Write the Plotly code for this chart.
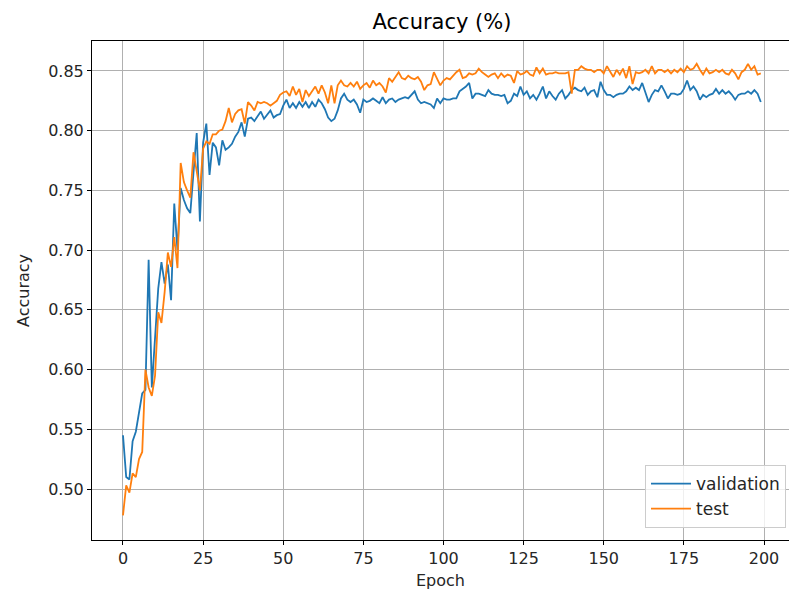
import plotly.graph_objects as go

epochs = list(range(200))

validation = [
    0.545, 0.510, 0.508, 0.540, 0.548, 0.565, 0.580, 0.583, 0.692, 0.585,
    0.625, 0.668, 0.690, 0.672, 0.688, 0.658, 0.739, 0.700, 0.752, 0.742,
    0.735, 0.731, 0.765, 0.798, 0.724, 0.790, 0.806, 0.763, 0.790, 0.786,
    0.771, 0.792, 0.784, 0.786, 0.789, 0.795, 0.799, 0.807, 0.795, 0.810,
    0.811, 0.808, 0.812, 0.816, 0.810, 0.814, 0.817, 0.811, 0.813, 0.814,
    0.821, 0.826, 0.819, 0.823, 0.819, 0.824, 0.820, 0.824, 0.819, 0.824,
    0.820, 0.826, 0.823, 0.818, 0.811, 0.808, 0.810, 0.817, 0.827, 0.831,
    0.826, 0.824, 0.826, 0.822, 0.815, 0.826, 0.824, 0.825, 0.827, 0.825,
    0.823, 0.828, 0.823, 0.826, 0.827, 0.824, 0.826, 0.827, 0.828, 0.827,
    0.830, 0.833, 0.826, 0.823, 0.824, 0.823, 0.822, 0.819, 0.827, 0.823,
    0.827, 0.826, 0.826, 0.827, 0.827, 0.833, 0.835, 0.837, 0.840, 0.827,
    0.831, 0.831, 0.830, 0.829, 0.834, 0.831, 0.830, 0.830, 0.829, 0.830,
    0.823, 0.825, 0.831, 0.829, 0.837, 0.830, 0.833, 0.827, 0.830, 0.826,
    0.831, 0.837, 0.827, 0.833, 0.829, 0.826, 0.831, 0.834, 0.827, 0.830,
    0.834, 0.836, 0.834, 0.833, 0.836, 0.830, 0.833, 0.834, 0.828, 0.841,
    0.834, 0.830, 0.830, 0.828, 0.830, 0.831, 0.831, 0.833, 0.837, 0.834,
    0.836, 0.834, 0.840, 0.831, 0.824, 0.830, 0.834, 0.833, 0.838, 0.833,
    0.827, 0.831, 0.831, 0.830, 0.831, 0.835, 0.842, 0.834, 0.837, 0.833,
    0.826, 0.830, 0.828, 0.830, 0.831, 0.835, 0.831, 0.834, 0.831, 0.833,
    0.830, 0.826, 0.830, 0.831, 0.831, 0.833, 0.831, 0.834, 0.831, 0.824,
]

test = [
    0.478, 0.503, 0.497, 0.513, 0.510, 0.525, 0.531, 0.600, 0.585, 0.578,
    0.595, 0.648, 0.639, 0.665, 0.698, 0.686, 0.711, 0.685, 0.773, 0.757,
    0.750, 0.744, 0.782, 0.766, 0.750, 0.785, 0.791, 0.789, 0.797, 0.797,
    0.800, 0.801, 0.808, 0.819, 0.807, 0.814, 0.817, 0.818, 0.806, 0.824,
    0.821, 0.817, 0.824, 0.823, 0.824, 0.823, 0.821, 0.823, 0.825, 0.830,
    0.832, 0.833, 0.829, 0.837, 0.830, 0.835, 0.824, 0.834, 0.829, 0.833,
    0.837, 0.831, 0.838, 0.832, 0.823, 0.838, 0.823, 0.838, 0.842, 0.838,
    0.837, 0.840, 0.837, 0.841, 0.835, 0.838, 0.840, 0.836, 0.842, 0.838,
    0.840, 0.837, 0.832, 0.844, 0.841, 0.845, 0.849, 0.844, 0.843, 0.846,
    0.844, 0.843, 0.845, 0.841, 0.834, 0.838, 0.839, 0.849, 0.844, 0.838,
    0.842, 0.844, 0.843, 0.846, 0.849, 0.851, 0.844, 0.845, 0.848, 0.847,
    0.848, 0.852, 0.849, 0.847, 0.845, 0.847, 0.848, 0.844, 0.848, 0.845,
    0.847, 0.846, 0.840, 0.850, 0.847, 0.848, 0.850, 0.847, 0.846, 0.853,
    0.848, 0.852, 0.847, 0.848, 0.848, 0.849, 0.848, 0.848, 0.848, 0.849,
    0.831, 0.851, 0.851, 0.854, 0.852, 0.851, 0.851, 0.849, 0.851, 0.851,
    0.848, 0.854, 0.850, 0.845, 0.851, 0.847, 0.852, 0.844, 0.854, 0.839,
    0.849, 0.848, 0.849, 0.851, 0.848, 0.854, 0.848, 0.851, 0.851, 0.849,
    0.851, 0.848, 0.851, 0.849, 0.852, 0.849, 0.854, 0.851, 0.852, 0.856,
    0.851, 0.847, 0.852, 0.848, 0.849, 0.851, 0.849, 0.851, 0.848, 0.847,
    0.851, 0.848, 0.843, 0.849, 0.851, 0.856, 0.851, 0.854, 0.847, 0.848,
]

x_ticks = [0, 25, 50, 75, 100, 125, 150, 175, 200]
y_ticks = [0.50, 0.55, 0.60, 0.65, 0.70, 0.75, 0.80, 0.85]
y_tick_text = ["%.2f" % v for v in y_ticks]

FONT = "DejaVu Sans"
TXT = "#262626"

fig = go.Figure()
fig.add_trace(go.Scatter(x=epochs, y=validation, mode="lines", name="validation",
                         line=dict(color="#1f77b4", width=1.8)))
fig.add_trace(go.Scatter(x=epochs, y=test, mode="lines", name="test",
                         line=dict(color="#ff7f0e", width=1.8)))

axis_common = dict(showline=True, linecolor="black", linewidth=1,
                   ticks="outside", ticklen=4, tickcolor="black", tickwidth=1,
                   showgrid=True, gridcolor="#b0b0b0", gridwidth=1, zeroline=False,
                   tickfont=dict(family=FONT, size=16, color=TXT))

fig.update_xaxes(range=[-9.67, 207.8], tickvals=x_ticks, mirror=True,
                 title=dict(text="Epoch", font=dict(family=FONT, size=16, color=TXT), standoff=7),
                 **axis_common)
fig.update_yaxes(range=[0.4573, 0.8751], tickvals=y_ticks, ticktext=y_tick_text, mirror=False,
                 title=dict(text="Accuracy", font=dict(family=FONT, size=16, color=TXT), standoff=14),
                 **axis_common)

fig.update_layout(
    width=789, height=595,
    margin=dict(l=92, r=0, t=41, b=55),
    paper_bgcolor="white", plot_bgcolor="white",
    title=dict(text="Accuracy (%)", x=442 / 789, xanchor="center", y=1 - 22 / 595, yanchor="middle",
               xref="container", yref="container", font=dict(family=FONT, size=21, color="black")),
    legend=dict(x=0.9957, y=0.024, xanchor="right", yanchor="bottom",
                bgcolor="rgba(255,255,255,0.8)", bordercolor="#cccccc", borderwidth=1,
                font=dict(family=FONT, size=17, color=TXT), tracegroupgap=2,
                itemwidth=40),
    showlegend=True,
)

fig.write_html("out.html")
